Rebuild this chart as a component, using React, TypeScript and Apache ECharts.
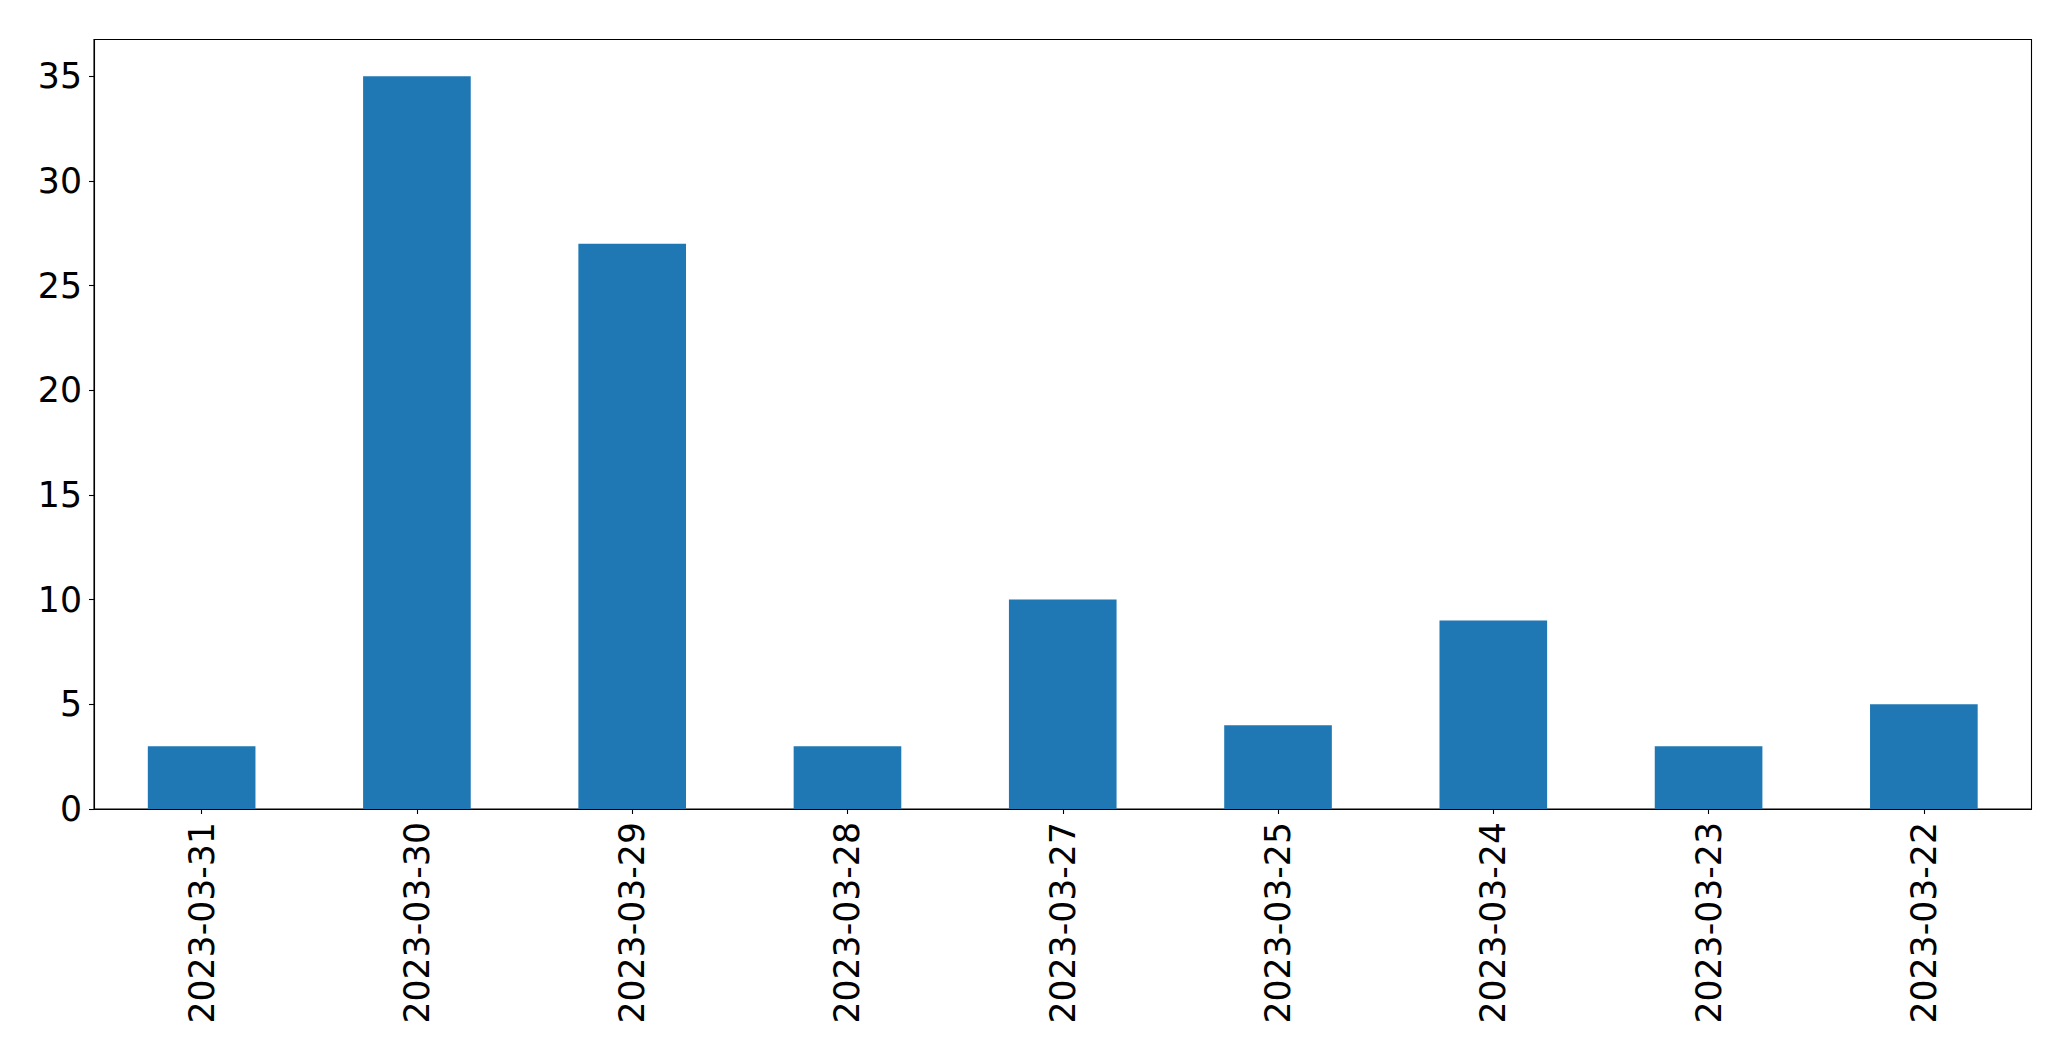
import React, { useEffect, useRef } from "react";
import * as echarts from "echarts";

const categories = [
  "2023-03-31",
  "2023-03-30",
  "2023-03-29",
  "2023-03-28",
  "2023-03-27",
  "2023-03-25",
  "2023-03-24",
  "2023-03-23",
  "2023-03-22",
];
const values = [3, 35, 27, 3, 10, 4, 9, 3, 5];
const yTicks = [0, 5, 10, 15, 20, 25, 30, 35];

export default function App() {
  const ref = useRef<HTMLDivElement>(null);
  useEffect(() => {
    if (!ref.current) return;
    const chart = echarts.init(ref.current, undefined, { renderer: "svg" });
    const font = "DejaVu Sans";
    chart.setOption({
      animation: false,
      backgroundColor: "#ffffff",
      grid: {
        left: 94,
        right: 39.5,
        top: 39.5,
        bottom: 252,
        show: true,
        borderColor: "#000000",
        borderWidth: 1.1,
        backgroundColor: "transparent",
        containLabel: false,
      },
      xAxis: {
        type: "category",
        data: categories,
        boundaryGap: true,
        axisLine: { show: true, lineStyle: { color: "#000", width: 1.1 } },
        axisTick: {
          show: true,
          alignWithLabel: true,
          length: 5,
          lineStyle: { color: "#000", width: 1.1 },
        },
        axisLabel: {
          rotate: 90,
          margin: 13,
          fontFamily: font,
          fontSize: 34.7,
          color: "#000",
          interval: 0,
        },
        splitLine: { show: false },
      },
      yAxis: {
        type: "value",
        min: 0,
        max: 36.75,
        interval: 5,
        axisLine: { show: true, lineStyle: { color: "#000", width: 1.1 } },
        axisTick: {
          show: true,
          length: 5,
          customValues: yTicks,
          lineStyle: { color: "#000", width: 1.1 },
        },
        axisLabel: {
          margin: 12,
          fontFamily: font,
          fontSize: 34.7,
          color: "#000",
          customValues: yTicks,
        },
        splitLine: { show: false },
      },
      series: [
        {
          type: "bar",
          data: values,
          barWidth: "50%",
          itemStyle: { color: "#1f77b4" },
        },
      ],
    });
    return () => chart.dispose();
  }, []);
  return (
    <div
      ref={ref}
      style={{ position: "fixed", left: 0, top: 0, width: 2071, height: 1061 }}
    />
  );
}
